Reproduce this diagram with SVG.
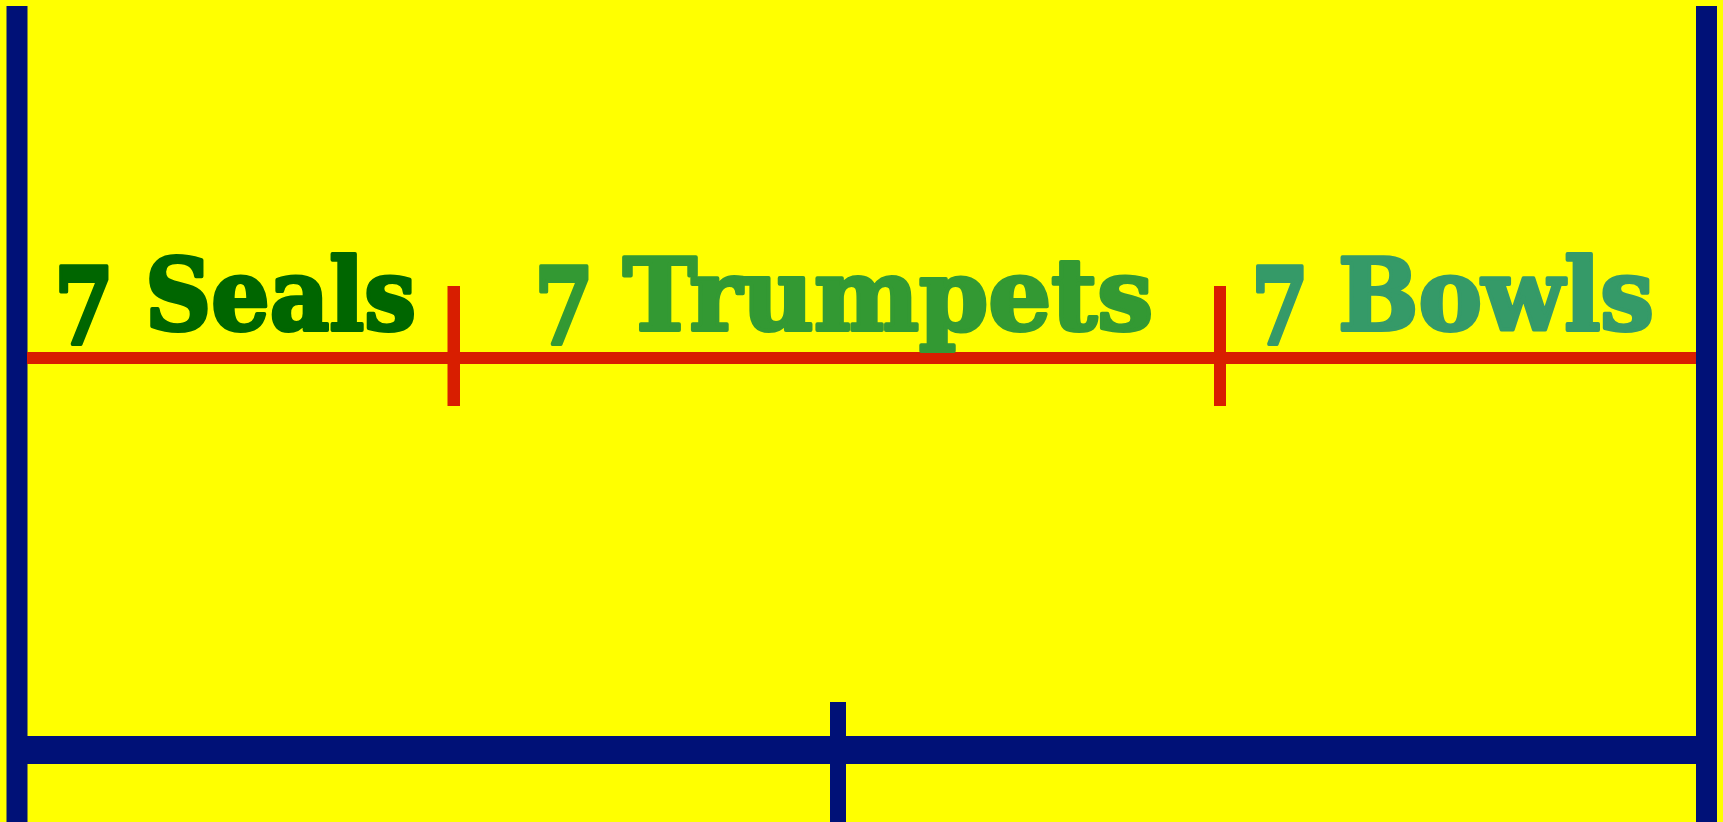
<svg xmlns="http://www.w3.org/2000/svg" width="1723" height="822" viewBox="0 0 1723 822">
<style>
.blue{fill:#001177}
.red{fill:#d81e00}
.lbl{font-family:"DejaVu Serif","Liberation Serif",serif;font-weight:bold;font-size:100px;stroke-width:4;stroke-linejoin:round}
.num{font-family:"DejaVu Serif","Liberation Serif",serif;font-weight:bold;font-size:106px;stroke-width:4;stroke-linejoin:round}
</style>
<rect width="1723" height="822" fill="#ffff00"/>
<g id="connectors">
<rect class="blue" x="6.5" y="6" width="21" height="816"/>
<rect class="blue" x="1696" y="6" width="21" height="816"/>
<rect class="blue" x="27" y="736" width="1669" height="28"/>
<rect class="blue" x="830" y="702" width="16" height="120"/>
<rect class="red" x="27" y="352" width="1669" height="12"/>
<rect class="red" x="447.5" y="286" width="12.5" height="120"/>
<rect class="red" x="1214" y="286" width="12" height="120"/>
</g>
<g id="seals" fill="#006600" stroke="#006600">
<text class="num" x="54" y="344" textLength="60" lengthAdjust="spacingAndGlyphs">7</text>
<text class="lbl" x="145" y="330" textLength="271" lengthAdjust="spacingAndGlyphs">Seals</text>
</g>
<g id="trumpets" fill="#339933" stroke="#339933">
<text class="num" x="534" y="344" textLength="60" lengthAdjust="spacingAndGlyphs">7</text>
<text class="lbl" x="623" y="330" textLength="530" lengthAdjust="spacingAndGlyphs">Trumpets</text>
</g>
<g id="bowls" fill="#359a68" stroke="#359a68">
<text class="num" x="1251" y="344" textLength="58" lengthAdjust="spacingAndGlyphs">7</text>
<text class="lbl" x="1338" y="330" textLength="316" lengthAdjust="spacingAndGlyphs">Bowls</text>
</g>
</svg>
